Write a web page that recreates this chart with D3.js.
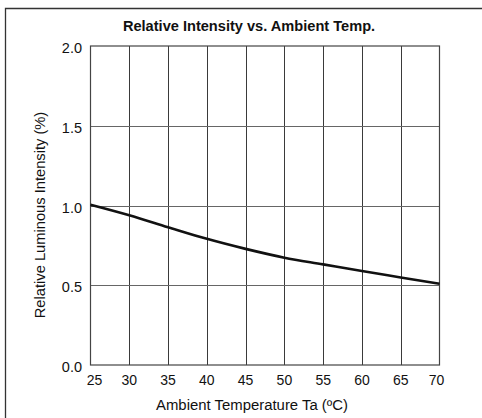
<!DOCTYPE html>
<html>
<head>
<meta charset="utf-8">
<script src="https://cdn.jsdelivr.net/npm/d3@7"></script>
<style>
  html, body { margin: 0; padding: 0; background: #fff; }
  svg { display: block; font-family: "Liberation Sans", Arial, Helvetica, sans-serif; }
</style>
</head>
<body>
<svg id="chart" width="482" height="418"></svg>
<script>
const temperatures = [25, 30, 35, 40, 45, 50, 55, 60, 65, 70];
const intensity = [1.005, 0.939, 0.864, 0.791, 0.728, 0.673, 0.631, 0.589, 0.549, 0.509];
const xTicks = [25, 30, 35, 40, 45, 50, 55, 60, 65, 70];
const yTicks = [0.0, 0.5, 1.0, 1.5, 2.0];
const chartTitle = "Relative Intensity vs. Ambient Temp.";
const xTitle = "Ambient Temperature Ta (ºC)";
const yTitle = "Relative Luminous Intensity (%)";

const svg = d3.select("#chart");
const W = 482, H = 418;
const m = { left: 90.5, right: 482 - 439.5, top: 46, bottom: 418 - 365 };

// frame (top and left edges visible)
svg.append("path")
  .attr("d", `M5.5,${H + 2} V8.5 H${W + 2}`)
  .attr("fill", "none").attr("stroke", "#333").attr("stroke-width", 1.3);

const x = d3.scaleLinear().domain([25, 70]).range([m.left, W - m.right]);
const y = d3.scaleLinear().domain([0, 2]).range([H - m.bottom, m.top]);

// grid
const g = svg.append("g");
g.selectAll("line.vx").data(xTicks.slice(1, -1)).join("line")
  .attr("x1", d => Math.round(x(d)) + 0.5).attr("x2", d => Math.round(x(d)) + 0.5)
  .attr("y1", y(0)).attr("y2", y(2))
  .attr("stroke", "#3a3a3a").attr("stroke-width", 1);
g.selectAll("line.hy").data(yTicks.slice(1, -1)).join("line")
  .attr("x1", x(25)).attr("x2", x(70))
  .attr("y1", d => Math.round(y(d)) + 0.5).attr("y2", d => Math.round(y(d)) + 0.5)
  .attr("stroke", "#666").attr("stroke-width", 1.1);

// plot border
svg.append("rect")
  .attr("x", x(25)).attr("y", y(2))
  .attr("width", x(70) - x(25)).attr("height", y(0) - y(2))
  .attr("fill", "none").attr("stroke", "#444").attr("stroke-width", 1.2);

// x tick labels
svg.append("g").selectAll("text").data(xTicks).join("text")
  .attr("x", d => x(d) + (d === 25 ? 4 : d === 70 ? -3 : 0))
  .attr("y", 385)
  .attr("text-anchor", "middle")
  .attr("font-size", 14).attr("fill", "#111")
  .text(d => d);

// y tick labels
svg.append("g").selectAll("text").data(yTicks).join("text")
  .attr("x", 82).attr("y", d => y(d) + 7)
  .attr("text-anchor", "end")
  .attr("font-size", 14.5).attr("fill", "#111")
  .text(d => d3.format(".1f")(d));

// curve
const line = d3.line()
  .x((d, i) => x(temperatures[i]))
  .y(d => y(d))
  .curve(d3.curveMonotoneX);
svg.append("path").datum(intensity)
  .attr("d", line)
  .attr("fill", "none").attr("stroke", "#111").attr("stroke-width", 2.6);

// titles
svg.append("text").attr("x", 249).attr("y", 31)
  .attr("text-anchor", "middle").attr("font-size", 14.6).attr("font-weight", "bold")
  .attr("fill", "#111").text(chartTitle);
svg.append("text").attr("x", 252).attr("y", 410)
  .attr("text-anchor", "middle").attr("font-size", 14.9)
  .attr("fill", "#111").text(xTitle);
svg.append("text")
  .attr("transform", "translate(45,215) rotate(-90)")
  .attr("text-anchor", "middle").attr("font-size", 14.7)
  .attr("fill", "#111").text(yTitle);
</script>
</body>
</html>
